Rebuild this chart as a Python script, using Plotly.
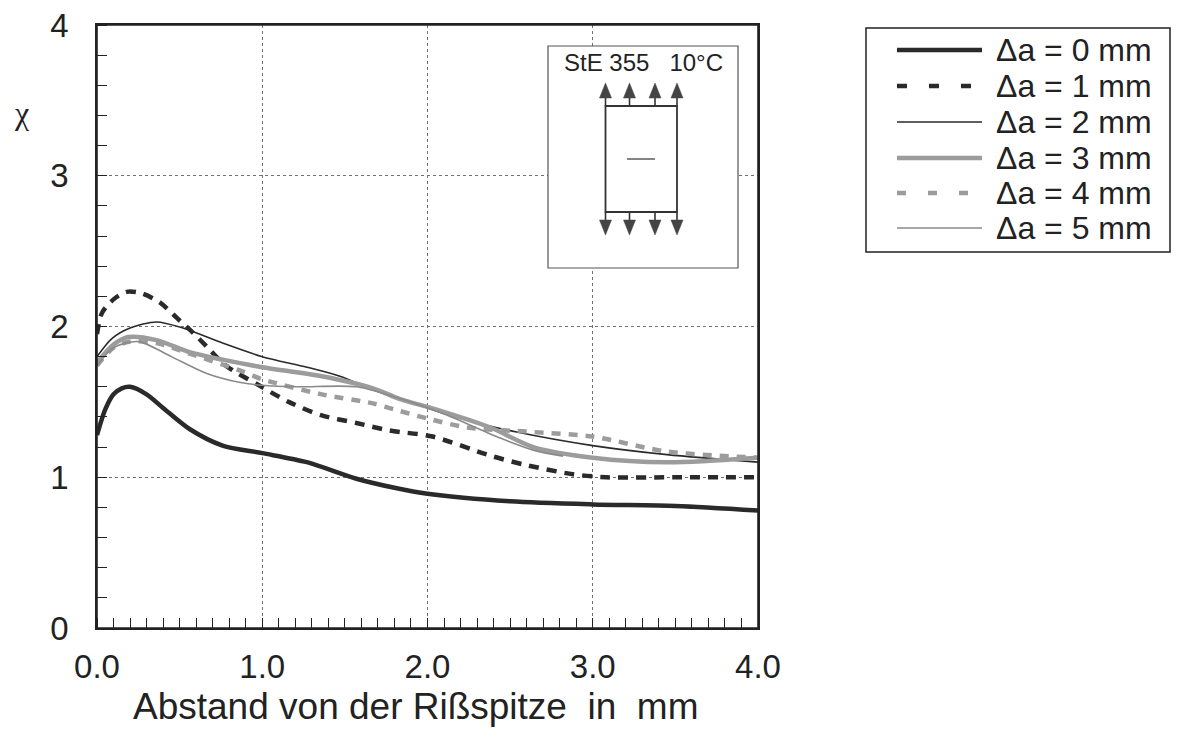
import plotly.graph_objects as go

# ---- data ----
x_da0 = [0, 0.05, 0.1, 0.15, 0.2, 0.3, 0.4, 0.56, 0.76, 1.0, 1.27, 1.57, 1.8, 2.0, 2.5, 3.0, 3.5, 4.0]
y_da0 = [1.28, 1.45, 1.55, 1.59, 1.6, 1.55, 1.46, 1.32, 1.21, 1.16, 1.1, 0.99, 0.93, 0.89, 0.84, 0.82, 0.81, 0.78]

x_da1 = [0, 0.03, 0.1, 0.18, 0.27, 0.38, 0.48, 0.58, 0.67, 0.78, 0.98, 1.16, 1.36, 1.57, 1.77, 2.03, 2.39, 2.6, 2.88, 3.08, 3.5, 4.0]
y_da1 = [1.95, 2.09, 2.18, 2.23, 2.22, 2.16, 2.06, 1.96, 1.86, 1.74, 1.61, 1.5, 1.41, 1.36, 1.31, 1.27, 1.14, 1.08, 1.02, 1.0, 1.0, 1.0]

x_da2 = [0, 0.09, 0.2, 0.36, 0.52, 0.76, 1.0, 1.27, 1.47, 1.67, 1.81, 2.0, 2.2, 2.54, 3.0, 3.45, 4.0]
y_da2 = [1.8, 1.92, 1.99, 2.03, 1.99, 1.89, 1.8, 1.73, 1.67, 1.58, 1.53, 1.46, 1.39, 1.3, 1.21, 1.15, 1.1]

x_da3 = [0, 0.1, 0.19, 0.36, 0.56, 0.76, 1.0, 1.36, 1.67, 1.83, 2.05, 2.38, 2.64, 3.0, 3.45, 4.0]
y_da3 = [1.76, 1.88, 1.93, 1.91, 1.83, 1.78, 1.73, 1.67, 1.59, 1.52, 1.45, 1.33, 1.2, 1.13, 1.1, 1.13]

x_da4 = [0, 0.1, 0.2, 0.36, 0.56, 0.86, 1.0, 1.36, 1.67, 1.83, 2.0, 2.24, 2.64, 3.0, 3.45, 4.0]
y_da4 = [1.74, 1.86, 1.9, 1.89, 1.82, 1.71, 1.65, 1.55, 1.49, 1.44, 1.39, 1.33, 1.3, 1.27, 1.17, 1.13]

x_da5 = [0, 0.1, 0.25, 0.45, 0.66, 0.86, 1.0, 1.21, 1.57, 1.81, 2.1, 2.44, 2.64, 2.82]
y_da5 = [1.74, 1.86, 1.9, 1.8, 1.69, 1.63, 1.61, 1.6, 1.6, 1.53, 1.42, 1.26, 1.18, 1.14]

series_names = ["\u0394a = 0 mm", "\u0394a = 1 mm", "\u0394a = 2 mm",
                "\u0394a = 3 mm", "\u0394a = 4 mm", "\u0394a = 5 mm"]
x_ticks = [0, 1, 2, 3, 4]
x_tick_labels = ["0.0", "1.0", "2.0", "3.0", "4.0"]
y_ticks = [0, 1, 2, 3, 4]
x_title = "Abstand von der Rißspitze\u00a0 in\u00a0 mm"
y_title = "\u03c7"
inset_title = "StE 355\u00a0\u00a0\u00a010°C"

FONT = "Liberation Sans, Arial, sans-serif"
DARK = "#2a2a2a"
GRAY = "#9c9c9c"

styles = [
    dict(color=DARK, width=4.5, dash="solid"),
    dict(color=DARK, width=4.5, dash="10px,8px"),
    dict(color=DARK, width=1.6, dash="solid"),
    dict(color=GRAY, width=4.5, dash="solid"),
    dict(color=GRAY, width=4.5, dash="9px,8px"),
    dict(color="#8a8a8a", width=1.6, dash="solid"),
]
legend_dash = ["solid", "10px,22px", "solid", "solid", "9px,22px", "solid"]
xs = [x_da0, x_da1, x_da2, x_da3, x_da4, x_da5]
ys = [y_da0, y_da1, y_da2, y_da3, y_da4, y_da5]

fig = go.Figure()
for name, x, y, st in zip(series_names, xs, ys, styles):
    fig.add_trace(go.Scatter(x=x, y=y, mode="lines", name=name, showlegend=False,
                             line=dict(shape="spline", smoothing=0.8, **st)))

# plot area geometry in page pixels (the page body has an 8px margin)
OFF = 8
L, R, T, B = 97, 758, 25, 628
W, H = 1187, 751


def px(xp):
    return (xp - L) / (R - L)


def py(yp):
    return (B - yp) / (B - T)


shapes = []
annotations = []

# plot frame
shapes.append(dict(type="rect", xref="paper", yref="paper", x0=0, x1=1, y0=0, y1=1,
                   fillcolor="rgba(0,0,0,0)", line=dict(color="#222", width=1.6),
                   layer="above"))

# inset box (white, hides grid)
shapes.append(dict(type="rect", xref="paper", yref="paper",
                   x0=px(548), x1=px(738), y0=py(268), y1=py(46),
                   fillcolor="white", line=dict(color="#555", width=1.2), layer="above"))
shapes.append(dict(type="rect", xref="paper", yref="paper",
                   x0=px(605.5), x1=px(677), y0=py(212), y1=py(106),
                   fillcolor="rgba(0,0,0,0)", line=dict(color="#333", width=1.8), layer="above"))
shapes.append(dict(type="line", xref="paper", yref="paper",
                   x0=px(627), x1=px(655), y0=py(159), y1=py(159),
                   line=dict(color="#333", width=1.2), layer="above"))
for ax_ in [605.5, 629.5, 655, 677]:
    shapes.append(dict(type="line", xref="paper", yref="paper",
                       x0=px(ax_), x1=px(ax_), y0=py(106), y1=py(96),
                       line=dict(color="#333", width=1.6), layer="above"))
    shapes.append(dict(type="path", xref="paper", yref="paper",
                       path=f"M {px(ax_-6)},{py(98)} L {px(ax_+6)},{py(98)} L {px(ax_)},{py(83)} Z",
                       fillcolor="#444", line=dict(color="#444", width=0.5), layer="above"))
    shapes.append(dict(type="line", xref="paper", yref="paper",
                       x0=px(ax_), x1=px(ax_), y0=py(212), y1=py(222),
                       line=dict(color="#333", width=1.6), layer="above"))
    shapes.append(dict(type="path", xref="paper", yref="paper",
                       path=f"M {px(ax_-6)},{py(220)} L {px(ax_+6)},{py(220)} L {px(ax_)},{py(235)} Z",
                       fillcolor="#444", line=dict(color="#444", width=0.5), layer="above"))
annotations.append(dict(text=inset_title, xref="paper", yref="paper",
                        x=px(643), y=py(62), showarrow=False, xanchor="center", yanchor="middle",
                        font=dict(family=FONT, size=24, color="#222")))

# legend (drawn by hand so sample length and row spacing match)
shapes.append(dict(type="rect", xref="paper", yref="paper",
                   x0=px(866), x1=px(1170), y0=py(252), y1=py(28),
                   fillcolor="white", line=dict(color="#222", width=1.5), layer="above"))
row_y = [50, 86, 122, 158, 193, 228]
for i, (name, st) in enumerate(zip(series_names, styles)):
    yy = row_y[i]
    shapes.append(dict(type="line", xref="paper", yref="paper",
                       x0=px(897), x1=px(982), y0=py(yy), y1=py(yy),
                       line=dict(color=st["color"], width=st["width"], dash=legend_dash[i]),
                       layer="above"))
    annotations.append(dict(text=name, xref="paper", yref="paper",
                            x=px(994), y=py(yy), showarrow=False,
                            xanchor="left", yanchor="middle",
                            font=dict(family=FONT, size=32, color="#222")))

# axis titles
annotations.append(dict(text=y_title, xref="paper", yref="paper", x=px(22), y=py(113),
                        showarrow=False, xanchor="center", yanchor="middle",
                        font=dict(family="Liberation Serif, serif", size=32, color="#222")))
annotations.append(dict(text=x_title, xref="paper", yref="paper", x=px(416), y=py(706),
                        showarrow=False, xanchor="center", yanchor="middle",
                        font=dict(family=FONT, size=37, color="#222")))

axis_common = dict(
    showline=True, linecolor="#222", linewidth=1.6, mirror=True,
    showgrid=True, gridcolor="#707070", gridwidth=1.1, griddash="dot",
    zeroline=False, ticks="", automargin=False, ticklabeloverflow="allow",
    tickfont=dict(family=FONT, size=33, color="#222"),
)

fig.update_layout(
    width=W, height=H,
    margin=dict(l=L - OFF, r=W + OFF - R, t=T - OFF, b=H + OFF - B, autoexpand=False),
    paper_bgcolor="white", plot_bgcolor="white",
    showlegend=False,
    xaxis=dict(range=[0, 4], tickvals=x_ticks, ticktext=x_tick_labels,
               ticklabelstandoff=9,
               minor=dict(dtick=0.1, ticks="inside", ticklen=10, tickcolor="#222",
                          showgrid=False),
               **axis_common),
    yaxis=dict(range=[0, 4], tickvals=y_ticks, ticklabelstandoff=20,
               minor=dict(dtick=0.2, ticks="inside", ticklen=10, tickcolor="#222",
                          showgrid=False),
               **axis_common),
    shapes=shapes, annotations=annotations,
)

fig.write_html("out.html")
